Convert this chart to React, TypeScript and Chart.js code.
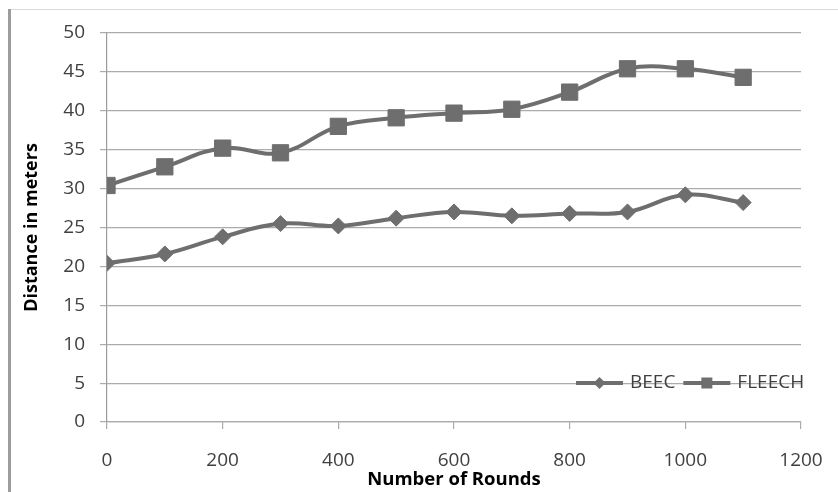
import React, { useEffect, useRef } from "react";
import { Chart, registerables } from "chart.js";

Chart.register(...registerables);

const rounds = [0, 100, 200, 300, 400, 500, 600, 700, 800, 900, 1000, 1100];
const beec = [20.4, 21.6, 23.8, 25.5, 25.2, 26.2, 27.0, 26.5, 26.8, 27.0, 29.2, 28.2];
const fleech = [30.4, 32.8, 35.2, 34.6, 38.0, 39.1, 39.7, 40.2, 42.4, 45.4, 45.4, 44.3];
const seriesNames = ["BEEC", "FLEECH"];
const xTitle = "Number of Rounds";
const yTitle = "Distance in meters";

const SERIES_COLOR = "#6e6e6e";
const TEXT_COLOR = "#404040";
const GRID_COLOR = "#ababab";
const FONT = "'Open Sans', sans-serif";

export default function App() {
  const ref = useRef<HTMLCanvasElement>(null);

  useEffect(() => {
    document.body.style.margin = "0";
    const canvas = ref.current;
    if (!canvas) return;

    const framePlugin = {
      id: "frame",
      beforeDraw(chart: any) {
        const ctx = chart.ctx;
        ctx.save();
        ctx.fillStyle = "#ffffff";
        ctx.fillRect(0, 0, chart.width, chart.height);
        ctx.fillStyle = "#d9d9d9";
        ctx.fillRect(11, 9, chart.width - 11, 1);
        ctx.fillStyle = "#9c9c9c";
        ctx.fillRect(8, 9, 3, chart.height - 9);
        ctx.restore();
      },
    };

    const legendPlugin = {
      id: "insideLegend",
      afterDraw(chart: any) {
        const ctx = chart.ctx;
        const area = chart.chartArea;
        const y = area.bottom - 39;
        let x = area.right - 225;
        ctx.save();
        ctx.font = `19px ${FONT}`;
        ctx.textBaseline = "middle";
        ctx.textAlign = "left";
        chart.data.datasets.forEach((ds: any) => {
          ctx.strokeStyle = ds.borderColor;
          ctx.lineWidth = 4;
          ctx.beginPath();
          ctx.moveTo(x, y);
          ctx.lineTo(x + 47, y);
          ctx.stroke();
          const cx = x + 23.5;
          ctx.fillStyle = ds.borderColor;
          ctx.beginPath();
          if (ds.pointStyle === "rectRot") {
            ctx.moveTo(cx, y - 6);
            ctx.lineTo(cx + 6, y);
            ctx.lineTo(cx, y + 6);
            ctx.lineTo(cx - 6, y);
            ctx.closePath();
          } else {
            ctx.rect(cx - 5.5, y - 5.5, 11, 11);
          }
          ctx.fill();
          ctx.fillStyle = TEXT_COLOR;
          ctx.fillText(ds.label, x + 54, y);
          x += 54 + ctx.measureText(ds.label).width + 8;
        });
        ctx.restore();
      },
    };

    const chart = new Chart(canvas, {
      type: "line",
      data: {
        datasets: [
          {
            label: seriesNames[0],
            data: rounds.map((r, i) => ({ x: r, y: beec[i] })),
            borderColor: SERIES_COLOR,
            backgroundColor: SERIES_COLOR,
            borderWidth: 4,
            pointStyle: "rectRot",
            pointRadius: 8,
            pointBorderWidth: 1,
            tension: 0.4,
          },
          {
            label: seriesNames[1],
            data: rounds.map((r, i) => ({ x: r, y: fleech[i] })),
            borderColor: SERIES_COLOR,
            backgroundColor: SERIES_COLOR,
            borderWidth: 4,
            pointStyle: "rect",
            pointRadius: 11.5,
            pointBorderWidth: 1,
            tension: 0.4,
          },
        ],
      },
      options: {
        responsive: false,
        animation: false,
        layout: { padding: { left: 12, right: 37, top: 33, bottom: 0 } },
        plugins: {
          legend: { display: false },
          tooltip: { enabled: false },
        },
        scales: {
          x: {
            type: "linear",
            min: 0,
            max: 1200,
            afterFit(scale: any) {
              scale.height = 70;
              scale.paddingLeft = 0;
              scale.paddingRight = 0;
            },
            ticks: {
              stepSize: 200,
              color: TEXT_COLOR,
              font: { family: FONT, size: 19 },
              padding: 20,
              maxRotation: 0,
              callback: (v: any) => String(v),
            },
            grid: {
              display: true,
              drawOnChartArea: false,
              drawTicks: true,
              tickLength: 7,
              color: GRID_COLOR,
              lineWidth: 1.2,
            },
            border: { display: true, color: GRID_COLOR, width: 1.2 },
            title: {
              display: true,
              text: xTitle,
              color: "#000000",
              font: { family: FONT, size: 18.5, weight: "bold" },
              padding: { top: 0, bottom: 1 },
            },
          },
          y: {
            min: 0,
            max: 50,
            afterFit(scale: any) {
              scale.width = 95;
              scale.paddingTop = 0;
              scale.paddingBottom = 0;
            },
            ticks: {
              stepSize: 5,
              color: TEXT_COLOR,
              font: { family: FONT, size: 19 },
              padding: 15,
            },
            grid: {
              display: true,
              drawOnChartArea: true,
              drawTicks: true,
              tickLength: 7,
              color: GRID_COLOR,
              lineWidth: 1.2,
            },
            border: { display: true, color: "#9a9a9a", width: 1.2 },
            title: {
              display: true,
              text: yTitle,
              color: "#000000",
              font: { family: FONT, size: 18, weight: "bold" },
              padding: { top: 9, bottom: 0 },
            },
          },
        },
      },
      plugins: [framePlugin, legendPlugin],
    });

    return () => chart.destroy();
  }, []);

  return <canvas ref={ref} width={838} height={492} style={{ display: "block" }} />;
}
